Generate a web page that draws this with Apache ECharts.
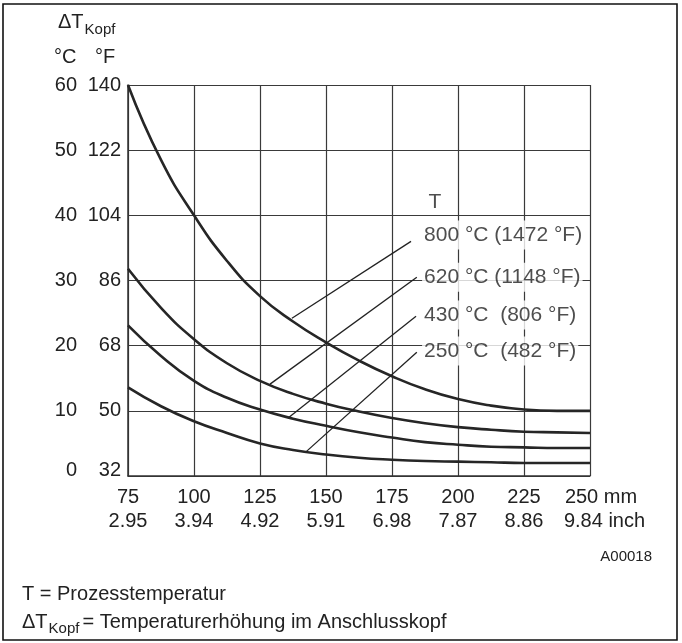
<!DOCTYPE html>
<html><head><meta charset="utf-8">
<script src="https://cdn.jsdelivr.net/npm/echarts@6/dist/echarts.min.js"></script>
<style>html,body{margin:0;padding:0;background:#fff}#c{width:682px;height:643px}</style>
</head><body><div id="c"></div>
<script>
// ---- data ----
const mmTicks = [75, 100, 125, 150, 175, 200, 225, 250];
const mmLabels = ['75', '100', '125', '150', '175', '200', '225', '250 mm'];
const inchLabels = ['2.95', '3.94', '4.92', '5.91', '6.98', '7.87', '8.86', '9.84 inch'];
const degCTicks = [0, 10, 20, 30, 40, 50, 60];
const degCLabels = ['0', '10', '20', '30', '40', '50', '60'];
const degFLabels = ['32', '50', '68', '86', '104', '122', '140'];

const xMm = [75, 87.5, 100, 112.5, 125, 137.5, 150, 162.5, 175, 187.5, 200, 212.5, 225, 237.5, 250];
const curve800 = [60, 48.5, 40, 33, 27.6, 23.7, 20.5, 17.7, 15.3, 13.3, 11.8, 10.8, 10.2, 10.0, 10.0];
const curve620 = [31.8, 25.8, 21, 17.3, 14.6, 12.6, 11.1, 9.9, 8.9, 8.1, 7.5, 7.1, 6.8, 6.7, 6.6];
const curve430 = [23.1, 18.4, 14.6, 12.0, 10.2, 8.8, 7.7, 6.7, 5.9, 5.2, 4.8, 4.5, 4.4, 4.3, 4.3];
const curve250 = [13.6, 10.7, 8.4, 6.6, 5.0, 4.0, 3.3, 2.8, 2.5, 2.3, 2.2, 2.1, 2.0, 2.0, 2.0];

const tempLabels = ['800 °C (1472 °F)', '620 °C (1148 °F)', '430 °C  (806 °F)', '250 °C  (482 °F)'];
const labelPos = [[186.4, 37.0], [186.4, 30.5], [186.4, 24.7], [186.4, 19.2]];
const leaderStart = [[182.2, 36.0], [184.4, 30.5], [184.1, 24.5], [184.4, 19.0]];
const leaderEnd = [[137.1, 24.2], [128.8, 14.1], [136.0, 9.0], [142.4, 3.7]];
const tHeadPos = [191.3, 42.0];

// ---- chart ----
const FONT = '"Liberation Sans", Arial, Helvetica, sans-serif';
const TXT = '#222';
const chart = echarts.init(document.getElementById('c'), null, {renderer: 'canvas'});

function toPairs(ys) { return xMm.map((x, i) => [x, ys[i]]); }
function curveSeries(name, ys) {
  return {
    name, type: 'line', data: toPairs(ys), smooth: 0.5,
    showSymbol: false, symbol: 'none', silent: true,
    lineStyle: {color: '#262626', width: 2.6}, z: 3
  };
}

const ctx = document.createElement('canvas').getContext('2d');
function tw(text, size) { ctx.font = size + 'px ' + FONT; return ctx.measureText(text).width; }

const legX = 22;
const dW = tw('ΔT', 20);
const kW = tw('Kopf', 15);

const option = {
  animation: false,
  backgroundColor: '#fff',
  grid: {left: 128, right: 92, top: 85, bottom: 167, containLabel: false},
  xAxis: [{
    type: 'value', min: 75, max: 250, interval: 25, position: 'bottom',
    axisLine: {show: true, onZero: false, lineStyle: {color: '#333', width: 1.5}},
    axisTick: {show: false},
    splitLine: {show: true, lineStyle: {color: '#3a3a3a', width: 1.2}},
    axisLabel: {
      margin: 11, color: TXT, fontSize: 20, fontFamily: FONT,
      formatter: v => {
        const i = mmTicks.indexOf(v);
        if (i < 0) return '';
        return i === mmTicks.length - 1 ? '{s| }{t|' + mmLabels[i] + '}' : '{t|' + mmLabels[i] + '}';
      },
      rich: {s: {width: 22, fontSize: 20}, t: {fontSize: 20, color: TXT, fontFamily: FONT}}
    }
  }, {
    type: 'value', min: 75, max: 250, interval: 25, position: 'bottom', offset: 24,
    axisLine: {show: false}, axisTick: {show: false}, splitLine: {show: false},
    axisLabel: {
      margin: 11, color: TXT, fontSize: 20, fontFamily: FONT,
      formatter: v => {
        const i = mmTicks.indexOf(v);
        if (i < 0) return '';
        return i === mmTicks.length - 1 ? '{s| }{t|' + inchLabels[i] + '}' : '{t|' + inchLabels[i] + '}';
      },
      rich: {s: {width: 29, fontSize: 20}, t: {fontSize: 20, color: TXT, fontFamily: FONT}}
    }
  }],
  yAxis: [{
    type: 'value', min: 0, max: 60, interval: 10, position: 'left',
    axisLine: {show: true, onZero: false, lineStyle: {color: '#333', width: 1.5}},
    axisTick: {show: false},
    splitLine: {show: true, lineStyle: {color: '#3a3a3a', width: 1.2}},
    axisLabel: {
      margin: 51, color: TXT, fontSize: 20, fontFamily: FONT,
      formatter: v => {
        const i = degCTicks.indexOf(v);
        if (i < 0) return '';
        return i === 0 ? '{z|' + degCLabels[i] + '}' : degCLabels[i];
      },
      rich: {z: {padding: [0, 0, 12, 0], fontSize: 20, color: TXT, fontFamily: FONT}}
    }
  }, {
    type: 'value', min: 0, max: 60, interval: 10, position: 'left',
    axisLine: {show: false}, axisTick: {show: false}, splitLine: {show: false},
    axisLabel: {
      margin: 7, color: TXT, fontSize: 20, fontFamily: FONT,
      formatter: v => {
        const i = degCTicks.indexOf(v);
        if (i < 0) return '';
        return i === 0 ? '{z|' + degFLabels[i] + '}' : degFLabels[i];
      },
      rich: {z: {padding: [0, 0, 12, 0], fontSize: 20, color: TXT, fontFamily: FONT}}
    }
  }],
  series: [
    curveSeries('800 °C', curve800),
    curveSeries('620 °C', curve620),
    curveSeries('430 °C', curve430),
    curveSeries('250 °C', curve250),
    {
      type: 'scatter', symbolSize: 0, silent: true, z: 5,
      data: labelPos.map((p, i) => ({name: tempLabels[i], value: p})).concat([
        {name: 'T', value: tHeadPos, label: {position: 'inside', backgroundColor: 'transparent', padding: 0}}
      ]),
      label: {
        show: true, position: 'right', distance: 0, formatter: '{b}',
        fontSize: 21, fontFamily: FONT, color: TXT,
        backgroundColor: '#fff', padding: [4, 2, 4, 2]
      },
      markLine: {
        silent: true, symbol: ['none', 'none'], animation: false,
        lineStyle: {color: '#222', width: 1.3, type: 'solid'},
        label: {show: false},
        emphasis: {disabled: true},
        data: leaderStart.map((s, i) => [{coord: s}, {coord: leaderEnd[i]}])
      }
    }
  ],
  graphic: [
    {type: 'rect', shape: {x: 3, y: 4, width: 674, height: 636}, style: {fill: 'none', stroke: '#111', lineWidth: 1.6}, silent: true},
    {type: 'text', left: 58, top: 12, style: {text: 'ΔT', fontSize: 20, fontFamily: FONT, fill: TXT}},
    {type: 'text', left: 58 + dW + 1, top: 22, style: {text: 'Kopf', fontSize: 15, fontFamily: FONT, fill: TXT}},
    {type: 'text', left: 54, top: 47, style: {text: '°C', fontSize: 20, fontFamily: FONT, fill: TXT}},
    {type: 'text', left: 95, top: 47, style: {text: '°F', fontSize: 20, fontFamily: FONT, fill: TXT}},
    {type: 'text', right: 30, top: 549, style: {text: 'A00018', fontSize: 15, fontFamily: FONT, fill: TXT}},
    {type: 'text', left: legX, top: 584, style: {text: 'T = Prozesstemperatur', fontSize: 20, fontFamily: FONT, fill: TXT}},
    {type: 'text', left: legX, top: 612, style: {text: 'ΔT', fontSize: 20, fontFamily: FONT, fill: TXT}},
    {type: 'text', left: legX + dW + 1, top: 621, style: {text: 'Kopf', fontSize: 15, fontFamily: FONT, fill: TXT}},
    {type: 'text', left: legX + dW + kW + 4, top: 612, style: {text: '= Temperaturerhöhung im Anschlusskopf', fontSize: 20, fontFamily: FONT, fill: TXT}}
  ]
};
chart.setOption(option);
</script>
</body></html>
